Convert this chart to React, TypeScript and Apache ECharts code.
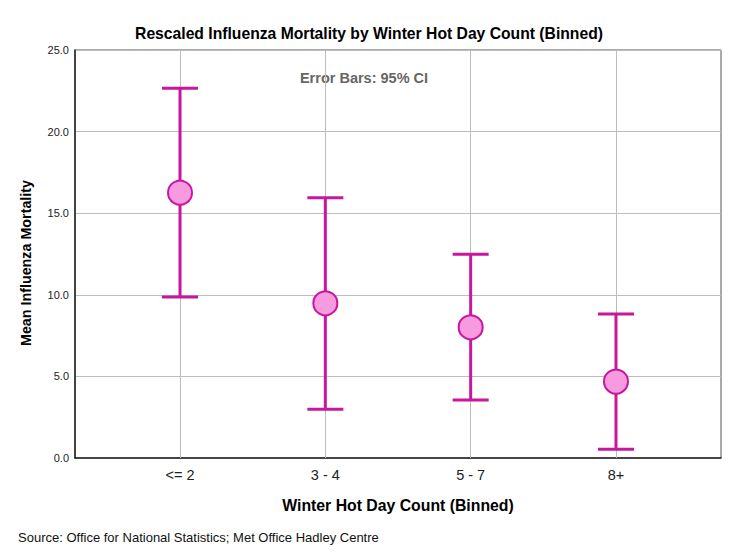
import React, { useEffect, useRef } from "react";
import * as echarts from "echarts";

const categories = ["<= 2", "3 - 4", "5 - 7", "8+"];
const means = [16.26, 9.48, 8.01, 4.68];
const lowerCI = [9.87, 2.98, 3.55, 0.53];
const upperCI = [22.65, 15.95, 12.48, 8.82];
const yTicks = [0, 5, 10, 15, 20, 25];

const FONT = "'Liberation Sans', Arial, sans-serif";
const BAR_COLOR = "#c8169f";
const FILL_COLOR = "#f89ae0";

export default function App() {
  const ref = useRef<HTMLDivElement>(null);

  useEffect(() => {
    if (!ref.current) return;
    const chart = echarts.init(ref.current, null, { renderer: "svg" });

    const errData = categories.map((_, i) => [i, lowerCI[i], upperCI[i]]);
    const meanData = categories.map((_, i) => [i, means[i]]);

    const option: any = {
      animation: false,
      backgroundColor: "#ffffff",
      textStyle: { fontFamily: FONT },
      grid: {
        left: 75,
        right: 9,
        top: 50,
        bottom: 102,
        show: true,
        borderColor: "#555",
        borderWidth: 1,
        backgroundColor: "transparent",
      },
      xAxis: {
        type: "value",
        min: -0.7226,
        max: 3.7226,
        axisLine: { show: true, onZero: false, lineStyle: { color: "#222", width: 1.5 } },
        axisTick: { show: false },
        splitLine: { show: false },
        axisLabel: {
          customValues: [0, 1, 2, 3],
          formatter: (v: number) => categories[Math.round(v)] ?? "",
          fontSize: 14.5,
          color: "#222",
          margin: 9,
          fontFamily: FONT,
        },
      },
      yAxis: {
        type: "value",
        min: yTicks[0],
        max: yTicks[yTicks.length - 1],
        interval: 5,
        axisLine: { show: true, onZero: false, lineStyle: { color: "#222", width: 1.5 } },
        axisTick: { show: false },
        splitLine: { show: true, lineStyle: { color: "#bdbdbd", width: 1 } },
        axisLabel: {
          formatter: (v: number) => v.toFixed(1),
          fontSize: 11,
          color: "#222",
          margin: 6,
          fontFamily: FONT,
        },
      },
      series: [
        {
          type: "line",
          data: [],
          z: 1,
          silent: true,
          markLine: {
            silent: true,
            z: 1,
            symbol: "none",
            label: { show: false },
            emphasis: { disabled: true },
            lineStyle: { color: "#bdbdbd", width: 1, type: "solid" },
            data: categories.map((_, i) => ({ xAxis: i })),
          },
        },
        {
          type: "custom",
          z: 6,
          silent: true,
          data: errData,
          renderItem: (params: any, api: any) => {
            const x = api.value(0);
            const lo = api.coord([x, api.value(1)]);
            const hi = api.coord([x, api.value(2)]);
            const hw = 18;
            const style = { stroke: BAR_COLOR, lineWidth: 3 };
            return {
              type: "group",
              children: [
                { type: "line", shape: { x1: lo[0], y1: lo[1], x2: hi[0], y2: hi[1] }, style },
                { type: "line", shape: { x1: hi[0] - hw, y1: hi[1], x2: hi[0] + hw, y2: hi[1] }, style },
                { type: "line", shape: { x1: lo[0] - hw, y1: lo[1], x2: lo[0] + hw, y2: lo[1] }, style },
              ],
            };
          },
        },
        {
          type: "scatter",
          z: 7,
          silent: true,
          symbol: "circle",
          symbolSize: 24,
          data: meanData,
          itemStyle: { color: FILL_COLOR, borderColor: BAR_COLOR, borderWidth: 2, opacity: 1 },
        },
      ],
      graphic: [
        {
          type: "text",
          x: 369,
          y: 33,
          style: {
            text: "Rescaled Influenza Mortality by Winter Hot Day Count (Binned)",
            fontFamily: FONT,
            fontSize: 15.7,
            fontWeight: "bold",
            fill: "#000",
            textAlign: "center",
            textVerticalAlign: "middle",
          },
        },
        {
          type: "text",
          x: 364,
          y: 78,
          style: {
            text: "Error Bars: 95% CI",
            fontFamily: FONT,
            fontSize: 14.5,
            fontWeight: "bold",
            fill: "#666",
            textAlign: "center",
            textVerticalAlign: "middle",
          },
        },
        {
          type: "text",
          x: 26,
          y: 263,
          rotation: Math.PI / 2,
          style: {
            text: "Mean Influenza Mortality",
            fontFamily: FONT,
            fontSize: 14.3,
            fontWeight: "bold",
            fill: "#000",
            textAlign: "center",
            textVerticalAlign: "middle",
          },
        },
        {
          type: "text",
          x: 398,
          y: 505,
          style: {
            text: "Winter Hot Day Count (Binned)",
            fontFamily: FONT,
            fontSize: 15.8,
            fontWeight: "bold",
            fill: "#000",
            textAlign: "center",
            textVerticalAlign: "middle",
          },
        },
        {
          type: "text",
          x: 18,
          y: 537,
          style: {
            text: "Source: Office for National Statistics; Met Office Hadley Centre",
            fontFamily: FONT,
            fontSize: 13,
            fill: "#111",
            textAlign: "left",
            textVerticalAlign: "middle",
          },
        },
      ],
    };

    chart.setOption(option);
    return () => chart.dispose();
  }, []);

  return (
    <div
      ref={ref}
      style={{ position: "fixed", left: 0, top: 0, width: 730, height: 560 }}
    />
  );
}
